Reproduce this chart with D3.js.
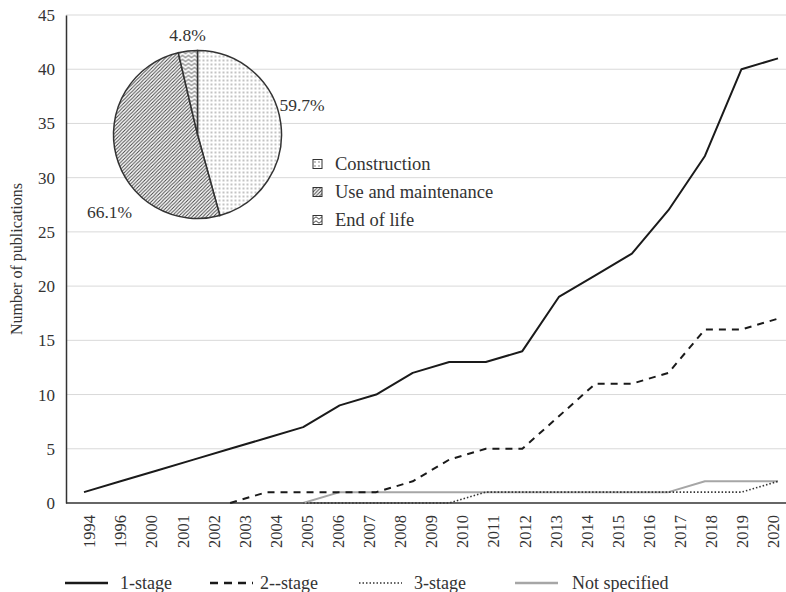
<!DOCTYPE html>
<html>
<head>
<meta charset="utf-8">
<script src="https://cdn.jsdelivr.net/npm/d3@7"></script>
<style>
  body { margin: 0; background: #fff; }
  svg text { font-family: "Liberation Serif", "Times New Roman", Tinos, "DejaVu Serif", "Noto Serif", serif; fill: #333; }
</style>
</head>
<body>
<div id="chart"></div>
<script>
var width = 786;
var height = 592;
var serifFont = '"Liberation Serif", "Times New Roman", Tinos, "DejaVu Serif", "Noto Serif", serif';

// Category labels shown under the axis
var years = ["1994", "1996", "2000", "2001", "2002", "2003", "2004", "2005", "2006", "2007",
  "2008", "2009", "2010", "2011", "2012", "2013", "2014", "2015", "2016", "2017", "2018", "2019", "2020"];

// Series values (20 points each, as drawn in the original)
var oneStage = [1, 2, 3, 4, 5, 6, 7, 9, 10, 12, 13, 13, 14, 19, 21, 23, 27, 32, 40, 41];
var twoStage = [null, null, null, null, 0, 1, 1, 1, 1, 2, 4, 5, 5, 8, 11, 11, 12, 16, 16, 17];
var threeStage = [null, null, null, null, null, null, 0, 0, 0, 0, 0, 1, 1, 1, 1, 1, 1, 1, 1, 2];
var notSpecified = [null, null, null, null, null, null, 0, 1, 1, 1, 1, 1, 1, 1, 1, 1, 1, 2, 2, 2];

var seriesNames = ["1-stage", "2--stage", "3-stage", "Not specified"];
var yTicks = [0, 5, 10, 15, 20, 25, 30, 35, 40, 45];

// Pie: life cycle stages
var stageNames = ["Construction", "Use and maintenance", "End of life"];
var stageValues = [59.7, 66.1, 4.8];
var stageLabels = ["59.7%", "66.1%", "4.8%"];

var plotLeft = 66, plotRight = 786, plotTop = 15, plotBottom = 503;

var svg = d3.select("#chart").append("svg")
  .attr("width", width)
  .attr("height", height);

// patterns for the pie
var defs = svg.append("defs");

var dots = defs.append("pattern").attr("id", "dots")
  .attr("patternUnits", "userSpaceOnUse").attr("width", 4).attr("height", 4);
dots.append("rect").attr("width", 4).attr("height", 4).attr("fill", "#fff");
dots.append("circle").attr("cx", 2).attr("cy", 2).attr("r", 0.65).attr("fill", "#555");

var hatch = defs.append("pattern").attr("id", "hatch")
  .attr("patternUnits", "userSpaceOnUse").attr("width", 3.5).attr("height", 3.5);
hatch.append("rect").attr("width", 3.5).attr("height", 3.5).attr("fill", "#fff");
hatch.append("path").attr("d", "M-1,1 l2,-2 M0,3.5 l3.5,-3.5 M2.5,4.5 l2,-2")
  .attr("stroke", "#444").attr("stroke-width", 1);

var zigzag = defs.append("pattern").attr("id", "zigzag")
  .attr("patternUnits", "userSpaceOnUse").attr("width", 6).attr("height", 4);
zigzag.append("rect").attr("width", 6).attr("height", 4).attr("fill", "#fff");
zigzag.append("path").attr("d", "M0,3.2 L3,0.8 L6,3.2")
  .attr("stroke", "#444").attr("stroke-width", 1).attr("fill", "none");

var stagePatterns = ["url(#dots)", "url(#hatch)", "url(#zigzag)"];

// scales
var y = d3.scaleLinear().domain([0, 45]).range([plotBottom, plotTop]);
var xLabel = d3.scalePoint().domain(years).range([89, 773]);
var xIndex = d3.scaleLinear().domain([0, oneStage.length - 1]).range([84, 778]);

// gridlines
svg.append("g")
  .selectAll("line")
  .data(yTicks.slice(1))
  .enter()
  .append("line")
  .attr("x1", plotLeft)
  .attr("x2", plotRight)
  .attr("y1", function (d) { return y(d); })
  .attr("y2", function (d) { return y(d); })
  .attr("stroke", "#d9d9d9")
  .attr("stroke-width", 1);

// y axis
var yAxis = svg.append("g")
  .attr("transform", "translate(" + plotLeft + ",0)")
  .call(d3.axisLeft(y).tickValues(yTicks).tickSize(0).tickPadding(11));
yAxis.attr("font-family", serifFont);
yAxis.select(".domain").attr("stroke", "#333").attr("stroke-width", 1.5);
yAxis.selectAll("text").attr("font-size", "17px").attr("fill", "#333");

// x axis
var xAxis = svg.append("g")
  .attr("transform", "translate(0," + plotBottom + ")")
  .call(d3.axisBottom(xLabel).tickSize(0));
xAxis.attr("font-family", serifFont);
xAxis.select(".domain").attr("d", "M" + plotLeft + ",0H" + plotRight)
  .attr("stroke", "#333").attr("stroke-width", 1.5);
xAxis.selectAll("text")
  .attr("font-size", "16.5px")
  .attr("fill", "#333")
  .attr("text-anchor", "end")
  .attr("transform", "rotate(-90)")
  .attr("x", -12)
  .attr("y", 0)
  .attr("dy", "0.35em");

// y title
svg.append("text")
  .attr("transform", "translate(22," + ((plotTop + plotBottom) / 2) + ") rotate(-90)")
  .attr("text-anchor", "middle")
  .attr("font-size", "16px")
  .text("Number of publications");

// lines
var styles = [
  { stroke: "#1a1a1a", width: 2, dash: null },
  { stroke: "#1a1a1a", width: 2, dash: "7,6" },
  { stroke: "#333", width: 1.6, dash: "1.5,2" },
  { stroke: "#a6a6a6", width: 2, dash: null }
];
var allSeries = [oneStage, twoStage, threeStage, notSpecified];

var line = d3.line()
  .defined(function (d) { return d !== null; })
  .x(function (d, i) { return xIndex(i); })
  .y(function (d) { return y(d); });

// draw gray and dotted first so solid/dashed lie on top
[3, 2, 1, 0].forEach(function (k) {
  svg.append("path")
    .datum(allSeries[k])
    .attr("d", line)
    .attr("fill", "none")
    .attr("stroke", styles[k].stroke)
    .attr("stroke-width", styles[k].width)
    .attr("stroke-dasharray", styles[k].dash)
    .attr("stroke-linejoin", "round");
});

// bottom legend
var legendX = [65, 210, 359, 515];
var legendTextX = [120, 260, 414, 572];
var legend = svg.append("g").selectAll("g")
  .data(seriesNames)
  .enter()
  .append("g")
  .attr("transform", function (d, i) { return "translate(" + legendX[i] + ",583)"; });
legend.append("line")
  .attr("x1", 0).attr("x2", 43)
  .attr("stroke", function (d, i) { return styles[i].stroke; })
  .attr("stroke-width", function (d, i) { return i === 2 ? 1.4 : 2.5; })
  .attr("stroke-dasharray", function (d, i) { return i === 1 ? "8,6" : (i === 2 ? "1.5,2" : null); });
legend.append("text")
  .attr("x", function (d, i) { return legendTextX[i] - legendX[i]; })
  .attr("y", 6)
  .attr("font-size", "18px")
  .text(function (d) { return d; });

// pie
var pieCx = 197.5, pieCy = 134.5, pieR = 84;
var pie = d3.pie().sort(null).value(function (d) { return d; });
var arc = d3.arc().innerRadius(0).outerRadius(pieR);
var pieG = svg.append("g").attr("transform", "translate(" + pieCx + "," + pieCy + ")");
pieG.selectAll("path")
  .data(pie(stageValues))
  .enter()
  .append("path")
  .attr("d", arc)
  .attr("fill", function (d, i) { return stagePatterns[i]; })
  .attr("stroke", "#333")
  .attr("stroke-width", 1.5);

var labelOffsets = [[104.5, -29.5], [-88, 77.5], [-10, -99.5]];
pieG.selectAll("text")
  .data(stageLabels)
  .enter()
  .append("text")
  .attr("x", function (d, i) { return labelOffsets[i][0]; })
  .attr("y", function (d, i) { return labelOffsets[i][1]; })
  .attr("dy", "0.35em")
  .attr("text-anchor", "middle")
  .attr("font-size", "17.5px")
  .text(function (d) { return d; });

// pie legend
var pieLegend = svg.append("g").selectAll("g")
  .data(stageNames)
  .enter()
  .append("g")
  .attr("transform", function (d, i) { return "translate(313," + (164 + i * 28) + ")"; });
pieLegend.append("rect")
  .attr("x", 0).attr("y", -4.5)
  .attr("width", 9).attr("height", 9)
  .attr("fill", function (d, i) { return stagePatterns[i]; })
  .attr("stroke", "#333")
  .attr("stroke-width", 1);
pieLegend.append("text")
  .attr("x", 22)
  .attr("dy", "0.35em")
  .attr("font-size", "18.5px")
  .text(function (d) { return d; });
</script>
</body>
</html>
